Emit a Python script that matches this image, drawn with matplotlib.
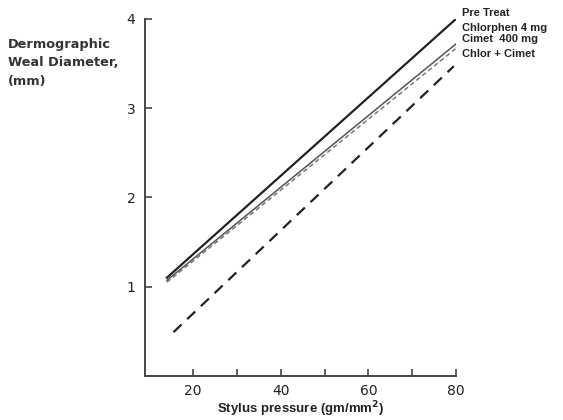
import matplotlib
matplotlib.use("Agg")
import matplotlib.pyplot as plt

plt.rcParams['font.family'] = ['DejaVu Sans']

# start / end of each fitted line (stylus pressure, weal diameter)
x_main = [14, 80]
pre_treat = [1.10, 4.00]
chlorphen = [1.07, 3.72]
cimet = [1.05, 3.67]
x_combo = [15.5, 79.5]
chlor_cimet = [0.49, 3.47]

series_labels = ["Pre Treat", "Chlorphen 4 mg", "Cimet  400 mg", "Chlor + Cimet"]
label_y = [4.07, 3.90, 3.78, 3.61]

x_ticks = [20, 30, 40, 50, 60, 70, 80]
x_ticklabels = ["20", "", "40", "", "60", "", "80"]
y_ticks = [1, 2, 3, 4]

fig = plt.figure(figsize=(5.63, 4.2), dpi=100)
ax = fig.add_axes([0.2575, 0.105, 0.5525, 0.85])

axcol = "#444444"
ax.plot(x_main, pre_treat, color="#222222", lw=1.6)
ax.plot(x_main, chlorphen, color="#555555", lw=1.1)
ax.plot(x_main, cimet, color="#777777", lw=1.1, ls=(0, (3, 2)))
ax.plot(x_combo, chlor_cimet, color="#222222", lw=1.6, ls=(0, (5, 3.5)))

for lab, yy in zip(series_labels, label_y):
    ax.text(81.3, yy, lab, fontsize=8, fontweight="bold", color="#222222",
            family="Liberation Sans", ha="left", va="center", clip_on=False)

ax.set_xlim(9, 80)
ax.set_ylim(0, 4)
ax.set_xticks(x_ticks)
ax.set_xticklabels(x_ticklabels)
ax.set_yticks(y_ticks)
ax.tick_params(direction="in", length=5, width=1.2, color=axcol,
               labelsize=10, labelcolor="#222222")
ax.tick_params(axis="y", pad=7)
ax.tick_params(axis="x", pad=6)
for s in ["top", "right"]:
    ax.spines[s].set_visible(False)
for s in ["left", "bottom"]:
    ax.spines[s].set_color(axcol)
    ax.spines[s].set_linewidth(1.4)

ax.set_xlabel("Stylus pressure (gm/mm$^\\mathbf{2}$)", fontsize=9.5,
              fontweight="bold", family="Liberation Sans", color="#222222",
              labelpad=1)
fig.text(0.014, 0.91, "Dermographic\nWeal Diameter,\n(mm)", fontsize=9.3,
         fontweight="bold", color="#333333", ha="left", va="top",
         linespacing=1.55)

fig.savefig("out.png", dpi=100, facecolor="white")
